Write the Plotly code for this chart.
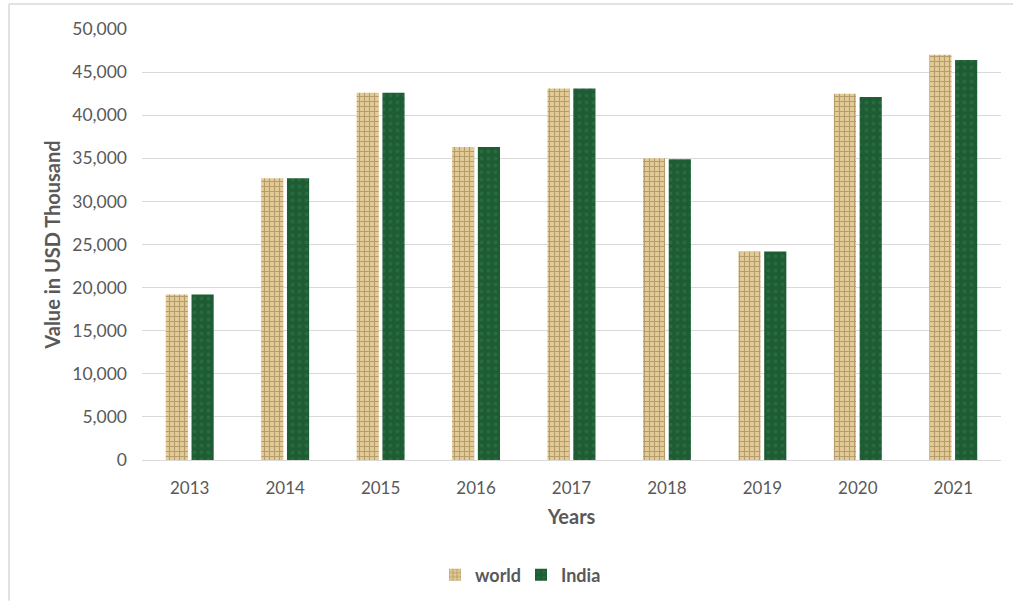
import plotly.graph_objects as go

years = ["2013", "2014", "2015", "2016", "2017", "2018", "2019", "2020", "2021"]
world = [19200, 32700, 42600, 36300, 43100, 35000, 24200, 42500, 47000]
india = [19200, 32700, 42600, 36300, 43100, 34900, 24200, 42100, 46400]
y_ticks = [0, 5000, 10000, 15000, 20000, 25000, 30000, 35000, 40000, 45000, 50000]

FONT = "Lato, 'Open Sans', sans-serif"
W, H = 1013, 604
L, R, T, B = 142, 12, 29, 143
pw, ph = W - L - R, H - T - B

fig = go.Figure()
fig.add_trace(go.Bar(
    x=years, y=world, name="world",
    marker=dict(color="#d9c08c", line=dict(width=0),
                pattern=dict(shape="+", fgcolor="#8a6d3b", bgcolor="#e3cb98",
                             size=5, solidity=0.4, fillmode="overlay")),
))
fig.add_trace(go.Bar(
    x=years, y=india, name="India",
    marker=dict(color="#1e5c34", line=dict(width=0),
                pattern=dict(shape=".", fgcolor="#2f7a4a", bgcolor="#1e5c34",
                             size=7, solidity=0.25, fillmode="overlay")),
))

def px_x(p):
    return (p - L) / pw

def px_y(p):
    return (H - B - p) / ph

border = dict(color="#d9d9d9", width=1.5)
fig.add_shape(type="line", xref="paper", yref="paper",
              x0=px_x(9), x1=px_x(1013), y0=px_y(4), y1=px_y(4), line=border)
fig.add_shape(type="line", xref="paper", yref="paper",
              x0=px_x(9), x1=px_x(9), y0=px_y(4), y1=px_y(602), line=border)

fig.update_layout(
    width=W, height=H,
    margin=dict(l=L, r=R, t=T, b=B),
    paper_bgcolor="white", plot_bgcolor="white",
    barmode="group", bargap=0.46, bargroupgap=0.14,
    font=dict(family=FONT, color="#595959", size=17),
    xaxis=dict(
        type="category", showgrid=False, showline=True, linecolor="#d9d9d9",
        linewidth=1, ticks="", tickfont=dict(size=17, color="#595959"),
        ticklabelstandoff=13,
        title=dict(text="<b>Years</b>", font=dict(size=20, color="#595959"), standoff=12),
    ),
    yaxis=dict(
        range=[0, 50000], tickvals=y_ticks, tickformat=",d",
        showgrid=True, gridcolor="#d9d9d9", gridwidth=1, zeroline=False,
        ticks="", tickfont=dict(size=17.5, color="#595959"), ticklabelstandoff=14,
        title=dict(text="<b>Value in USD Thousand</b>", font=dict(size=20, color="#595959"), standoff=6),
    ),
    legend=dict(
        orientation="h", x=px_x(435), xanchor="left", y=px_y(575), yanchor="middle",
        font=dict(size=18, color="#595959", family=FONT, weight="bold"),
        itemwidth=30, entrywidth=41, traceorder="normal",
    ),
)

fig.write_html("out.html")
